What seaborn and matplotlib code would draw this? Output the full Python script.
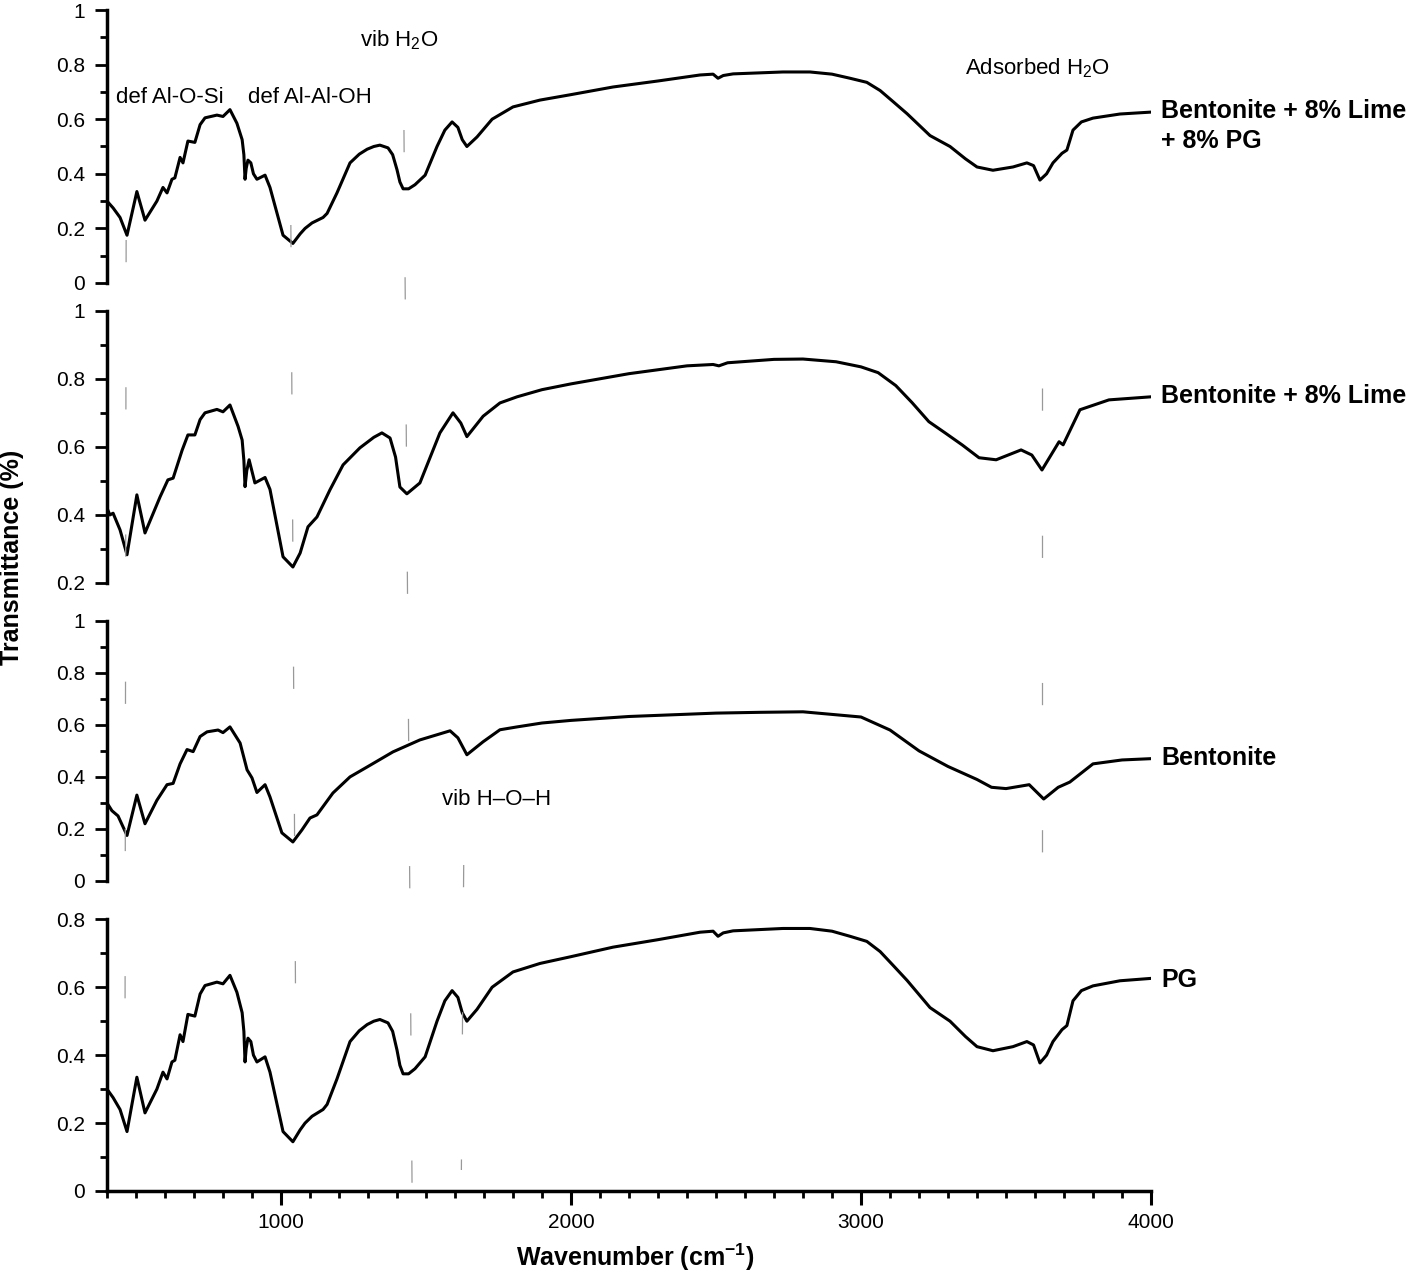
import pandas as pd
import seaborn as sns
import matplotlib.pyplot as plt
import matplotlib.transforms as mtransforms
from matplotlib.lines import Line2D
from matplotlib.ticker import MultipleLocator, FixedLocator, FuncFormatter

# FTIR spectra: wavenumber (cm-1) and transmittance
wn_mix = [400, 421, 445, 469, 503, 531, 572, 593, 607, 624, 634, 652, 662, 679, 703, 721, 738,
          779, 800, 824, 848, 866, 872, 876, 880, 886, 896, 905, 917, 945, 962, 1007, 1041,
          1066, 1083, 1107, 1145, 1159, 1193, 1238, 1270, 1297, 1320, 1341, 1369, 1385, 1400,
          1410, 1421, 1440, 1462, 1497, 1538, 1565, 1590, 1610, 1625, 1641, 1676, 1728, 1800,
          1893, 2000, 2145, 2300, 2445, 2490, 2507, 2525, 2559, 2731, 2824, 2900, 2962, 3020,
          3066, 3110, 3159, 3238, 3307, 3360, 3400, 3455, 3524, 3572, 3595, 3617, 3640, 3662,
          3693, 3710, 3731, 3760, 3800, 3893, 4000]
t_mix = [0.30, 0.275, 0.24, 0.175, 0.335, 0.23, 0.30, 0.35, 0.33, 0.38, 0.385, 0.46, 0.44, 0.52,
         0.515, 0.58, 0.605, 0.615, 0.61, 0.635, 0.585, 0.525, 0.47, 0.38, 0.42, 0.45, 0.44,
         0.40, 0.38, 0.395, 0.35, 0.175, 0.145, 0.18, 0.20, 0.22, 0.24, 0.255, 0.33, 0.44,
         0.472, 0.49, 0.50, 0.505, 0.495, 0.47, 0.415, 0.37, 0.345, 0.345, 0.36, 0.395, 0.50,
         0.56, 0.59, 0.57, 0.525, 0.50, 0.535, 0.60, 0.645, 0.67, 0.69, 0.718, 0.74, 0.762,
         0.765, 0.75, 0.76, 0.766, 0.773, 0.773, 0.765, 0.75, 0.735, 0.705, 0.665, 0.62, 0.54,
         0.50, 0.455, 0.425, 0.413, 0.425, 0.44, 0.43, 0.377, 0.40, 0.44, 0.475, 0.487, 0.56,
         0.59, 0.604, 0.619, 0.626]

wn_lime = [400, 410, 421, 445, 469, 503, 531, 583, 610, 628, 659, 679, 703, 721, 738, 779, 800,
           824, 852, 866, 872, 876, 882, 890, 910, 945, 962, 1007, 1041, 1066, 1093, 1124, 1169,
           1214, 1272, 1320, 1348, 1376, 1395, 1410, 1434, 1479, 1548, 1593, 1620, 1641, 1697,
           1755, 1814, 1900, 2000, 2200, 2400, 2490, 2510, 2540, 2700, 2800, 2914, 3000, 3059,
           3120, 3176, 3234, 3290, 3350, 3407, 3466, 3552, 3589, 3624, 3683, 3697, 3755, 3855,
           4000]
t_lime = [0.42, 0.40, 0.405, 0.356, 0.283, 0.459, 0.347, 0.453, 0.503, 0.508, 0.59, 0.635, 0.635,
          0.68, 0.70, 0.71, 0.703, 0.723, 0.66, 0.62, 0.56, 0.483, 0.53, 0.562, 0.494, 0.51,
          0.475, 0.277, 0.247, 0.288, 0.365, 0.394, 0.474, 0.547, 0.597, 0.628, 0.641, 0.626,
          0.57, 0.482, 0.462, 0.494, 0.641, 0.70, 0.67, 0.63, 0.69, 0.729, 0.747, 0.768, 0.785,
          0.815, 0.838, 0.842, 0.838, 0.847, 0.857, 0.858, 0.85, 0.835, 0.818, 0.78, 0.73,
          0.674, 0.641, 0.605, 0.568, 0.562, 0.591, 0.576, 0.532, 0.615, 0.606, 0.709, 0.738,
          0.747]

wn_bent = [400, 417, 438, 469, 503, 531, 572, 607, 628, 652, 676, 697, 721, 745, 783, 800, 824,
           859, 883, 900, 917, 945, 962, 1003, 1041, 1072, 1100, 1124, 1179, 1238, 1297, 1386,
           1479, 1583, 1610, 1641, 1697, 1755, 1814, 1900, 2000, 2200, 2500, 2650, 2800, 3000,
           3100, 3200, 3300, 3400, 3450, 3500, 3580, 3630, 3680, 3700, 3720, 3800, 3900, 4000]
t_bent = [0.30, 0.27, 0.25, 0.175, 0.33, 0.22, 0.31, 0.37, 0.375, 0.45, 0.505, 0.497, 0.555,
          0.573, 0.58, 0.57, 0.592, 0.53, 0.427, 0.396, 0.34, 0.37, 0.323, 0.185, 0.15, 0.196,
          0.242, 0.254, 0.338, 0.40, 0.438, 0.496, 0.542, 0.577, 0.55, 0.485, 0.535, 0.581,
          0.592, 0.607, 0.617, 0.632, 0.645, 0.648, 0.65, 0.63, 0.58, 0.50, 0.44, 0.39, 0.36,
          0.355, 0.37, 0.315, 0.36, 0.37, 0.38, 0.45, 0.465, 0.47]

# the PG trace in the figure is the same curve as the top panel
wn_pg = list(wn_mix)
t_pg = list(t_mix)

sample_names = ["Bentonite + 8% Lime\n+ 8% PG", "Bentonite + 8% Lime", "Bentonite", "PG"]
y_limits = [(0, 1), (0.2, 1), (0, 1), (0, 0.8)]
name_y = [0.575, 0.75, 0.473, 0.62]
x_major = [1000, 2000, 3000, 4000]

# band annotations: (text, panel, wavenumber, transmittance)
band_text = ["def Al-O-Si", "def Al-Al-OH", "vib H$_2$O", "Adsorbed H$_2$O", "vib H\u2013O\u2013H"]
band_panel = [0, 0, 0, 0, 2]
band_wn = [617, 1100, 1407, 3610, 1745]
band_t = [0.681, 0.681, 0.89, 0.788, 0.315]

# dashed guide lines across the panels (wavenumber at top/bottom, pixel rows)
guide_wn_top = [466, 1034, 1424, 1630, 3624]
guide_wn_bot = [462, 1052, 1452, 1622, 3624]
guide_y_top = [240, 225, 130, 865, 388]
guide_y_bot = [1065, 1085, 1190, 1170, 915]

frames = []
for name, wn, t in zip(sample_names, [wn_mix, wn_lime, wn_bent, wn_pg], [t_mix, t_lime, t_bent, t_pg]):
    frames.append(pd.DataFrame({"wavenumber": wn, "transmittance": t, "sample": name}))
df = pd.concat(frames, ignore_index=True)

sns.set_style("ticks")
plt.rcParams["font.family"] = ["Liberation Sans", "DejaVu Sans"]
plt.rcParams["mathtext.fontset"] = "custom"
plt.rcParams["mathtext.rm"] = "Liberation Sans"
plt.rcParams["mathtext.bf"] = "Liberation Sans:bold"
plt.rcParams["lines.scale_dashes"] = False
plt.rcParams["lines.solid_joinstyle"] = "round"
for key in ["text.color", "axes.labelcolor", "xtick.color", "ytick.color", "axes.edgecolor"]:
    plt.rcParams[key] = "black"

W, H = 1418, 1277
fig = plt.figure(figsize=(W / 100, H / 100), dpi=100)

# panel boxes in pixels: (top, bottom)
panel_px = [(10, 283), (310.7, 583), (620.7, 881), (919.3, 1191)]
x0, x1 = 107, 1151
axes = []
for i, (top, bot) in enumerate(panel_px):
    ax = fig.add_axes([x0 / W, 1 - bot / H, (x1 - x0) / W, (bot - top) / H])
    sub = df[df["sample"] == sample_names[i]]
    sns.lineplot(data=sub, x="wavenumber", y="transmittance", ax=ax, color="black",
                 lw=2.2, estimator=None, sort=False)
    ax.set_xlim(400, 4000)
    ax.set_ylim(*y_limits[i])
    ax.set_xlabel("")
    ax.set_ylabel("")
    ax.yaxis.set_major_locator(MultipleLocator(0.2))
    ax.yaxis.set_minor_locator(MultipleLocator(0.1))
    ax.yaxis.set_major_formatter(FuncFormatter(lambda v, p: f"{v:g}"))
    ax.tick_params(axis="y", which="major", length=9, width=2, labelsize=15, pad=7)
    ax.tick_params(axis="y", which="minor", length=5, width=2)
    ax.spines["left"].set_linewidth(2.5)
    ax.spines["top"].set_visible(False)
    ax.spines["right"].set_visible(False)
    if i < 3:
        ax.spines["bottom"].set_visible(False)
        ax.tick_params(axis="x", which="both", bottom=False, labelbottom=False)
    else:
        ax.spines["bottom"].set_linewidth(2.5)
        ax.xaxis.set_major_locator(FixedLocator(x_major))
        ax.xaxis.set_minor_locator(MultipleLocator(100))
        ax.tick_params(axis="x", which="major", length=10, width=2.2, labelsize=15, pad=6)
        ax.tick_params(axis="x", which="minor", length=5, width=2)
    ax.text(4035, name_y[i], sample_names[i], fontsize=18, fontweight="bold",
            ha="left", va="center", linespacing=1.35, clip_on=False)
    axes.append(ax)

for txt, p, w, t in zip(band_text, band_panel, band_wn, band_t):
    axes[p].text(w, t, txt, fontsize=16, ha="center", va="center")

trans = mtransforms.blended_transform_factory(axes[3].transData, fig.transFigure)
for wt, wb, yt, yb in zip(guide_wn_top, guide_wn_bot, guide_y_top, guide_y_bot):
    fig.add_artist(Line2D([wt, wb], [1 - yt / H, 1 - yb / H], transform=trans,
                          color="0.6", lw=0.9, linestyle=(0, (16, 90))))

fig.text(12 / W, 1 - 557 / H, "Transmittance (%)", rotation=90, fontsize=18,
         fontweight="bold", ha="center", va="center")
fig.text(635 / W, 1 - 1257 / H, r"Wavenumber (cm$^{\mathbf{-1}}$)", fontsize=18,
         fontweight="bold", ha="center", va="center")

fig.savefig("out.png", dpi=100)
